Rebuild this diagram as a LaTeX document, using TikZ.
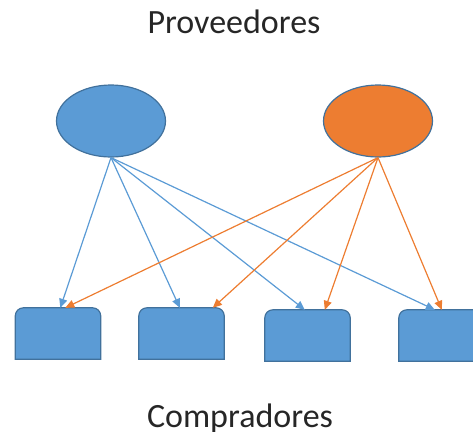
\documentclass[tikz,border=0pt]{standalone}
\usepackage{fontspec}
\setmainfont{Carlito}
\usetikzlibrary{shapes.geometric,arrows.meta}
\definecolor{fillblue}{HTML}{5B9BD5}
\definecolor{edgeblue}{HTML}{41719C}
\definecolor{fillorange}{HTML}{ED7D31}
\tikzset{
  supplier/.style={ellipse, draw=edgeblue, line width=1.2pt, minimum width=109pt, minimum height=72pt, inner sep=0pt},
  buyer/.style={rectangle, minimum width=85pt, minimum height=51pt, inner sep=0pt},
  buyershape/.style={fill=fillblue, draw=edgeblue, line width=1.2pt},
  link/.style={line width=1.2pt, -{Triangle[length=9pt,width=8pt]}},
  title/.style={font=\fontsize{34}{40}\selectfont, text=black!85, anchor=base}
}
% box with rounded top corners drawn over a named node
\newcommand{\buyerbox}[1]{%
  \draw[buyershape] (#1.south west) -- ([yshift=-8pt]#1.north west)
    arc[start angle=180, end angle=90, radius=8pt]
    -- ([xshift=-8pt]#1.north east)
    arc[start angle=90, end angle=0, radius=8pt]
    -- (#1.south east) -- cycle;}
\begin{document}
\begin{tikzpicture}[x=1pt, y=-1pt]
  \useasboundingbox (0,0) rectangle (473,431);

  \node[title] (top) at (234,33) {Proveedores};
  \node[title] (bottom) at (240,427) {Compradores};

  \node[supplier, fill=fillblue] (s1) at (111,121) {};
  \node[supplier, fill=fillorange] (s2) at (378,121) {};

  \node[buyer] (b1) at (58,333.5) {};
  \node[buyer] (b2) at (181.5,333.5) {};
  \node[buyer] (b3) at (307.5,335.5) {};
  \node[buyer] (b4) at (441.5,335.5) {};
  \buyerbox{b1}\buyerbox{b2}\buyerbox{b3}\buyerbox{b4}

  % links from the blue supplier
  \draw[link, fillblue] (s1.south) -- ([xshift=45pt]b1.north west);
  \draw[link, fillblue] (s1.south) -- ([xshift=41pt]b2.north west);
  \draw[link, fillblue] (s1.south) -- ([xshift=40pt]b3.north west);
  \draw[link, fillblue] (s1.south) -- ([xshift=36pt]b4.north west);
  % links from the orange supplier
  \draw[link, fillorange] (s2.south) -- ([xshift=50pt]b1.north west);
  \draw[link, fillorange] (s2.south) -- ([xshift=74pt]b2.north west);
  \draw[link, fillorange] (s2.south) -- ([xshift=60pt]b3.north west);
  \draw[link, fillorange] (s2.south) -- ([xshift=43pt]b4.north west);
\end{tikzpicture}
\end{document}
